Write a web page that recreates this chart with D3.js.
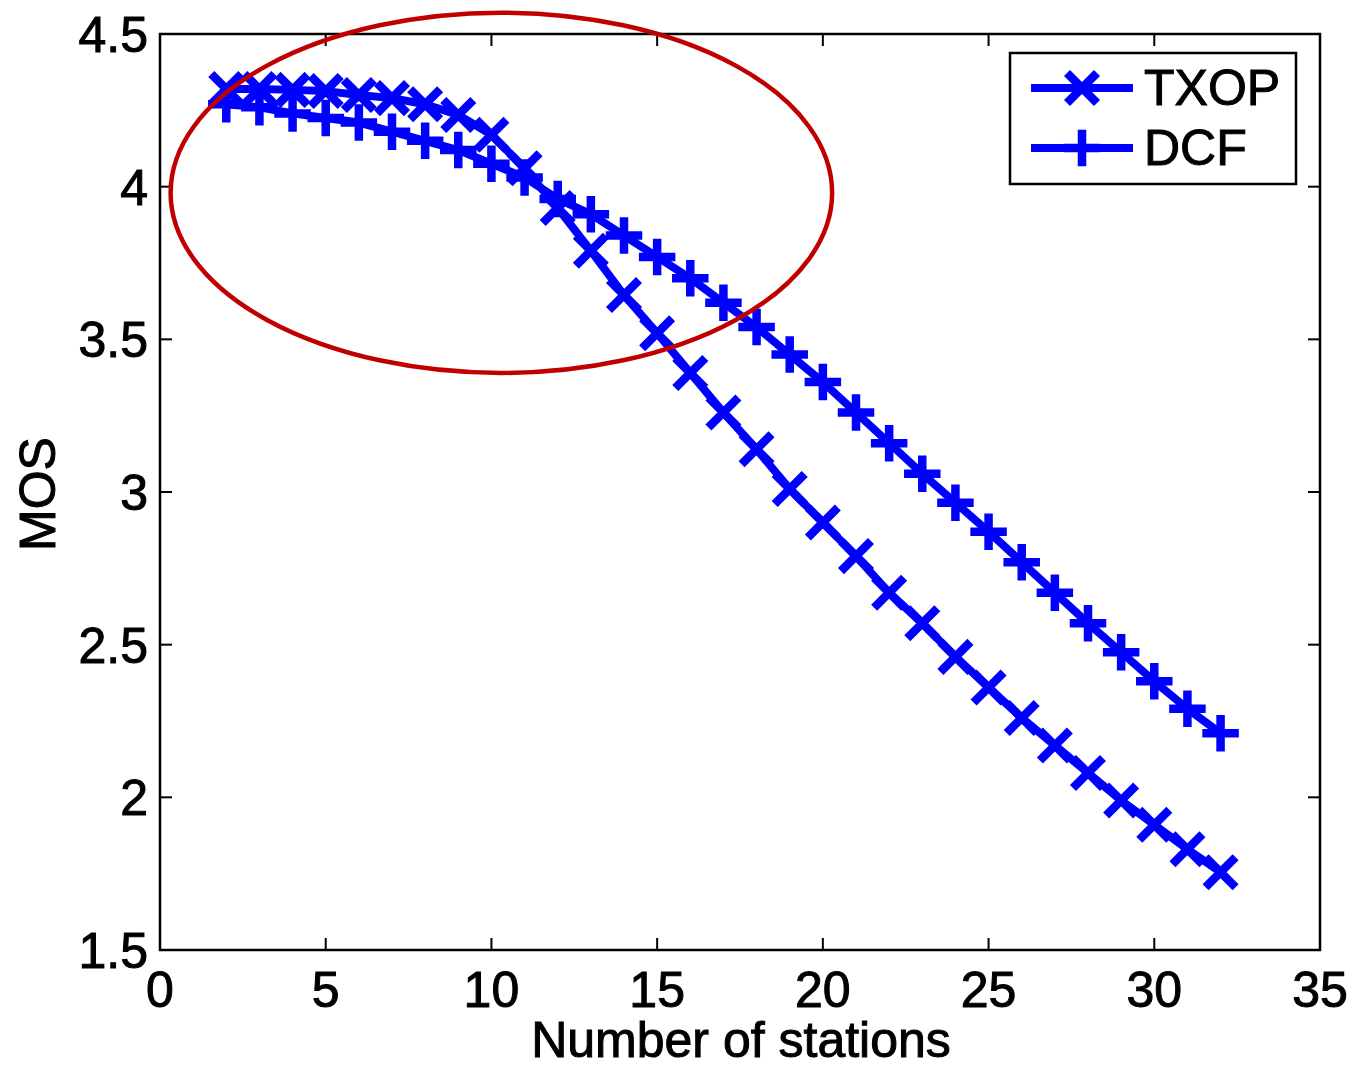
<!DOCTYPE html>
<html>
<head>
<meta charset="utf-8">
<script src="https://cdn.jsdelivr.net/npm/d3@7"></script>
<style>
  body { margin: 0; background: #fff; }
  svg text { font-family: "Liberation Sans", Arial, sans-serif; fill: #000; stroke: #000; stroke-width: 1; font-size: 50px; }
</style>
</head>
<body>
<script>
// data
var stations = [2,3,4,5,6,7,8,9,10,11,12,13,14,15,16,17,18,19,20,21,22,23,24,25,26,27,28,29,30,31,32];
var txop = [4.32,4.32,4.317,4.313,4.30,4.29,4.27,4.235,4.17,4.06,3.93,3.79,3.645,3.52,3.39,3.26,3.14,3.01,2.90,2.79,2.67,2.57,2.46,2.36,2.26,2.17,2.08,1.99,1.91,1.83,1.755];
var dcf = [4.27,4.26,4.24,4.225,4.21,4.18,4.15,4.12,4.075,4.03,3.96,3.91,3.84,3.77,3.70,3.62,3.54,3.45,3.36,3.26,3.16,3.06,2.965,2.87,2.77,2.67,2.57,2.475,2.38,2.29,2.21];
var xTicks = [0,5,10,15,20,25,30,35];
var yTicks = [1.5,2,2.5,3,3.5,4,4.5];
var seriesNames = ["TXOP", "DCF"];
// highlight ellipse, in data units: centre x, centre y, half-width, half-height
var ellipse = {cx: 10.3, cy: 3.98, rx: 9.98, ry: 0.59};

var W = 1355, H = 1066;
var pLeft = 160, pRight = 1320, pTop = 34, pBottom = 950;

var svg = d3.select("body").append("svg")
    .attr("width", W)
    .attr("height", H);

var x = d3.scaleLinear().domain([0, 35]).range([pLeft, pRight]);
var y = d3.scaleLinear().domain([1.5, 4.5]).range([pBottom, pTop]);

var blue = "#0000ff";

// ticks, inward on all four sides
var tickLen = 12;
var ax = svg.append("g").attr("stroke", "#000").attr("stroke-width", 2);
xTicks.forEach(function(t) {
    ax.append("line").attr("x1", x(t)).attr("x2", x(t)).attr("y1", pBottom).attr("y2", pBottom - tickLen);
    ax.append("line").attr("x1", x(t)).attr("x2", x(t)).attr("y1", pTop).attr("y2", pTop + tickLen);
});
yTicks.forEach(function(t) {
    ax.append("line").attr("x1", pLeft).attr("x2", pLeft + tickLen).attr("y1", y(t)).attr("y2", y(t));
    ax.append("line").attr("x1", pRight).attr("x2", pRight - tickLen).attr("y1", y(t)).attr("y2", y(t));
});
svg.append("rect")
    .attr("x", pLeft).attr("y", pTop)
    .attr("width", pRight - pLeft).attr("height", pBottom - pTop)
    .attr("fill", "none").attr("stroke", "#000").attr("stroke-width", 2.5);

// tick labels
svg.selectAll(".xl").data(xTicks).enter().append("text")
    .attr("x", function(d) { return x(d); })
    .attr("y", 1007)
    .attr("text-anchor", "middle")
    .text(function(d) { return d; });
svg.selectAll(".yl").data(yTicks).enter().append("text")
    .attr("x", 148)
    .attr("y", function(d) { return y(d) + 18; })
    .attr("text-anchor", "end")
    .text(function(d) { return d; });

svg.append("text")
    .attr("x", (pLeft + pRight) / 2 + 1)
    .attr("y", 1057)
    .attr("text-anchor", "middle")
    .text("Number of stations");
svg.append("text")
    .attr("transform", "translate(55," + ((pTop + pBottom) / 2 + 2) + ") rotate(-90)")
    .attr("text-anchor", "middle")
    .text("MOS");

// markers
var m = 12;
function crossPath(d) { // "x"
    return "M" + (-m) + "," + (-m) + "L" + m + "," + m + "M" + (-m) + "," + m + "L" + m + "," + (-m);
}
function plusPath(d) { // "+"
    var p = 14;
    return "M" + (-p) + ",0L" + p + ",0M0," + (-p) + "L0," + p;
}

var line = d3.line()
    .x(function(d) { return x(d[0]); })
    .y(function(d) { return y(d[1]); });

var series = [
    {name: seriesNames[0], values: d3.zip(stations, txop), marker: crossPath},
    {name: seriesNames[1], values: d3.zip(stations, dcf), marker: plusPath}
];

series.forEach(function(s) {
    svg.append("path")
        .attr("d", line(s.values))
        .attr("fill", "none")
        .attr("stroke", blue)
        .attr("stroke-width", 8)
        .attr("stroke-linejoin", "round");
    svg.append("g").selectAll("path").data(s.values).enter().append("path")
        .attr("transform", function(d) { return "translate(" + x(d[0]) + "," + y(d[1]) + ")"; })
        .attr("d", s.marker)
        .attr("fill", "none")
        .attr("stroke", blue)
        .attr("stroke-width", 8.5)
        .attr("stroke-linecap", "square");
});

// red ellipse annotation
svg.append("ellipse")
    .attr("cx", x(ellipse.cx))
    .attr("cy", y(ellipse.cy))
    .attr("rx", x(ellipse.cx + ellipse.rx) - x(ellipse.cx))
    .attr("ry", y(ellipse.cy) - y(ellipse.cy + ellipse.ry))
    .attr("fill", "none")
    .attr("stroke", "#c00000")
    .attr("stroke-width", 4.5);

// legend
var lg = svg.append("g");
lg.append("rect")
    .attr("x", 1010).attr("y", 53)
    .attr("width", 286).attr("height", 131)
    .attr("fill", "#fff").attr("stroke", "#000").attr("stroke-width", 2.5);
series.forEach(function(s, i) {
    var ly = 88 + i * 60;
    lg.append("line")
        .attr("x1", 1031).attr("x2", 1133)
        .attr("y1", ly).attr("y2", ly)
        .attr("stroke", blue).attr("stroke-width", 8);
    lg.append("path")
        .attr("transform", "translate(1082," + ly + ")")
        .attr("d", s.marker)
        .attr("fill", "none")
        .attr("stroke", blue)
        .attr("stroke-width", 8.5)
        .attr("stroke-linecap", "square");
    lg.append("text")
        .attr("x", 1144)
        .attr("y", ly + 17)
        .text(s.name);
});
</script>
</body>
</html>
